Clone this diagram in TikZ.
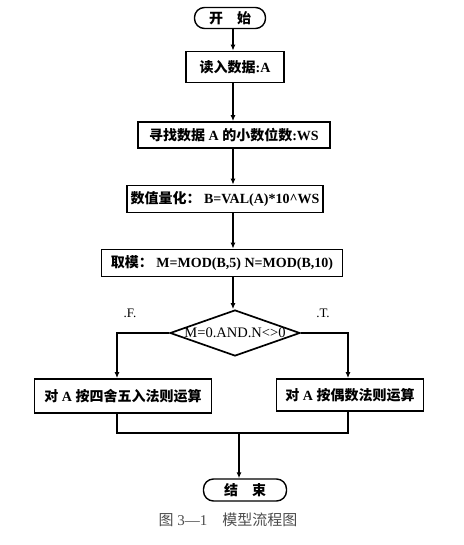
\documentclass[tikz,border=0pt]{standalone}
\usepackage{fontspec}
\setmainfont{Liberation Serif}
\newfontfamily\cjk{Noto Sans CJK SC}
\newcommand\zh[1]{{\cjk #1}}
\usetikzlibrary{shapes.geometric,arrows.meta}
\begin{document}
\begin{tikzpicture}[x=1pt,y=-1pt,
  every node/.style={font=\fontsize{14}{16}\selectfont\bfseries},
  box/.style={draw,line width=1.7pt,inner sep=0pt,minimum height=#1},
  term/.style={draw,line width=1.4pt,rounded corners=10pt,inner sep=0pt,minimum height=21pt},
  arr/.style={line width=1.4pt,-{Latex[length=6pt,width=5pt]}},
  ln/.style={line width=1.4pt},
  lab/.style={font=\fontsize{13}{15}\selectfont}]
\useasboundingbox (0,0) rectangle (463,545);
\coordinate (spine) at (233,0);
\coordinate (lx) at (117,0);
\coordinate (rx) at (348,0);
\coordinate (merge) at (0,433);
\coordinate (mx) at (239,433);
\node[term,minimum width=71pt] (start) at (230,18) {\zh{开\quad 始}};
\node[box=31pt,minimum width=98pt] (b1) at (235,67) {\zh{读入数据}:A};
\node[box=26pt,minimum width=192pt] (b2) at (234,135) {\zh{寻找数据} A \zh{的小数位数}:WS};
\node[box=27pt,minimum width=196pt] (b3) at (225,199) {\zh{数值量化：} B=VAL(A)*10\textasciicircum WS};
\node[box=27pt,minimum width=241pt] (b4) at (222,263) {\zh{取模：} M=MOD(B,5) N=MOD(B,10)};
\node[diamond,draw,line width=1.7pt,aspect=2.8,inner sep=0pt,minimum width=130pt,minimum height=46pt,font=\fontsize{14.5}{16}\selectfont] (dia) at (235,333) {M=0.AND.N<>0};
\node[box=34pt,minimum width=177pt] (b5) at (123,396) {\zh{对} A \zh{按四舍五入法则运算}};
\node[box=32pt,minimum width=147pt] (b6) at (350,395) {\zh{对} A \zh{按偶数法则运算}};
\node[term,minimum width=83pt,minimum height=22pt] (end) at (245,490) {\zh{结\quad 束}};
\node[lab] (f) at (130,313) {.F.};
\node[lab] (t) at (323,313) {.T.};
\node[font=\fontsize{15}{17}\selectfont,text=black!70] (cap) at (228,520) {\zh{图} 3—1\hspace{1em}\zh{模型流程图}};
\draw[arr] (start.south -| spine) -- (b1.north -| spine);
\draw[arr] (b1.south -| spine) -- (b2.north -| spine);
\draw[arr] (b2.south -| spine) -- (b3.north -| spine);
\draw[arr] (b3.south -| spine) -- (b4.north -| spine);
\draw[arr] (b4.south -| spine) -- (dia.north -| spine);
\draw[arr] (dia.west) -| (lx |- b5.north);
\draw[arr] (dia.east) -| (rx |- b6.north);
\draw[ln] (lx |- b5.south) -- (lx |- merge) -- (rx |- merge) -- (rx |- b6.south);
\draw[arr] (mx) -- (mx |- end.north);
\end{tikzpicture}
\end{document}
